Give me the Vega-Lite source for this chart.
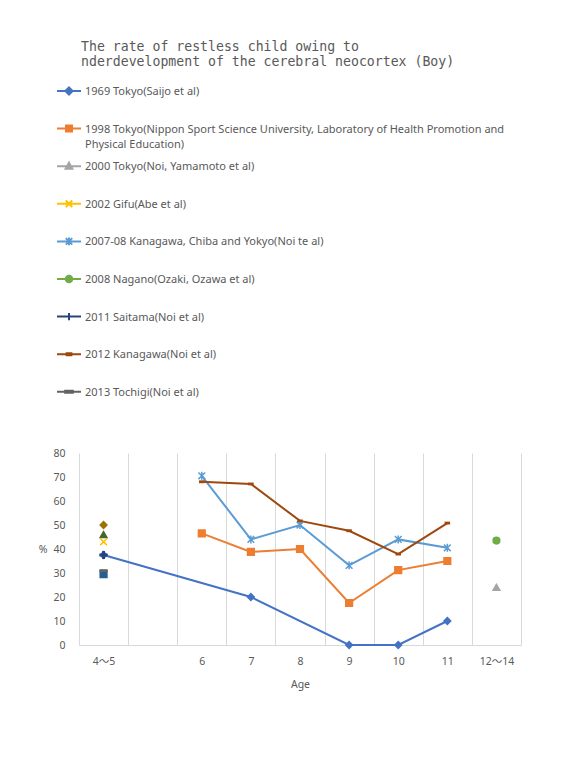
{
  "$schema": "https://vega.github.io/schema/vega-lite/v6.json",
  "width": 442,
  "height": 192,
  "autosize": {"type": "none"},
  "padding": {"left": 79, "top": 453, "right": 47, "bottom": 131},
  "background": "white",
  "title": {
    "text": ["The rate of restless child owing to", "nderdevelopment of the cerebral neocortex (Boy)"],
    "anchor": "start",
    "frame": "group",
    "font": "DejaVu Sans Mono",
    "fontSize": 13.2,
    "fontWeight": "normal",
    "color": "#595959",
    "baseline": "top",
    "lineHeight": 15,
    "offset": 8.5,
    "dx": 2
  },
  "data": {
    "values": [
      {"series": "1969 Tokyo(Saijo et al)", "age": "4～5", "value": 37.5},
      {"series": "1969 Tokyo(Saijo et al)", "age": "7", "value": 20},
      {"series": "1969 Tokyo(Saijo et al)", "age": "9", "value": 0},
      {"series": "1969 Tokyo(Saijo et al)", "age": "10", "value": 0},
      {"series": "1969 Tokyo(Saijo et al)", "age": "11", "value": 10},
      {"series": "1998 Tokyo(Nippon Sport Science University, Laboratory of Health Promotion and Physical Education)", "age": "6", "value": 46.5},
      {"series": "1998 Tokyo(Nippon Sport Science University, Laboratory of Health Promotion and Physical Education)", "age": "7", "value": 38.8},
      {"series": "1998 Tokyo(Nippon Sport Science University, Laboratory of Health Promotion and Physical Education)", "age": "8", "value": 40},
      {"series": "1998 Tokyo(Nippon Sport Science University, Laboratory of Health Promotion and Physical Education)", "age": "9", "value": 17.5},
      {"series": "1998 Tokyo(Nippon Sport Science University, Laboratory of Health Promotion and Physical Education)", "age": "10", "value": 31.2},
      {"series": "1998 Tokyo(Nippon Sport Science University, Laboratory of Health Promotion and Physical Education)", "age": "11", "value": 35},
      {"series": "2000 Tokyo(Noi, Yamamoto et al)", "age": "12～14", "value": 24},
      {"series": "2002 Gifu(Abe et al)", "age": "4～5", "value": 43},
      {"series": "2007-08 Kanagawa, Chiba and Yokyo(Noi te al)", "age": "6", "value": 70.5},
      {"series": "2007-08 Kanagawa, Chiba and Yokyo(Noi te al)", "age": "7", "value": 44},
      {"series": "2007-08 Kanagawa, Chiba and Yokyo(Noi te al)", "age": "8", "value": 50},
      {"series": "2007-08 Kanagawa, Chiba and Yokyo(Noi te al)", "age": "9", "value": 33.2},
      {"series": "2007-08 Kanagawa, Chiba and Yokyo(Noi te al)", "age": "10", "value": 44},
      {"series": "2007-08 Kanagawa, Chiba and Yokyo(Noi te al)", "age": "11", "value": 40.5},
      {"series": "2008 Nagano(Ozaki, Ozawa et al)", "age": "12～14", "value": 43.5},
      {"series": "2011 Saitama(Noi et al)", "age": "4～5", "value": 37.5},
      {"series": "2012 Kanagawa(Noi et al)", "age": "6", "value": 68},
      {"series": "2012 Kanagawa(Noi et al)", "age": "7", "value": 67.1},
      {"series": "2012 Kanagawa(Noi et al)", "age": "8", "value": 51.7},
      {"series": "2012 Kanagawa(Noi et al)", "age": "9", "value": 47.6},
      {"series": "2012 Kanagawa(Noi et al)", "age": "10", "value": 37.9},
      {"series": "2012 Kanagawa(Noi et al)", "age": "11", "value": 50.8},
      {"series": "2013 Tochigi(Noi et al)", "age": "4～5", "value": 31},
      {"series": "Series 10", "age": "4～5", "value": 50},
      {"series": "Series 11", "age": "4～5", "value": 29.5},
      {"series": "Series 12", "age": "4～5", "value": 46}
    ]
  },
  "encoding": {
    "x": {
      "field": "age",
      "type": "ordinal",
      "sort": ["4～5", " ", "6", "7", "8", "9", "10", "11", "12～14"],
      "scale": {"type": "band", "domain": ["4～5", " ", "6", "7", "8", "9", "10", "11", "12～14"], "paddingInner": 0, "paddingOuter": 0},
      "axis": {
        "title": "Age",
        "labelAngle": 0,
        "ticks": false,
        "tickSize": 0,
        "tickBand": "extent",
        "grid": true,
        "gridColor": "#d9d9d9",
        "gridWidth": 1,
        "domain": true,
        "domainColor": "#d9d9d9",
        "domainWidth": 1,
        "labelFont": "Noto Sans, Noto Sans CJK JP",
        "labelFontSize": 10.5,
        "labelColor": "#595959",
        "labelPadding": 11,
        "titleFont": "Noto Sans",
        "titleFontSize": 10.5,
        "titleFontWeight": "normal",
        "titleColor": "#595959",
        "titlePadding": 13
      }
    },
    "y": {
      "field": "value",
      "type": "quantitative",
      "scale": {"domain": [0, 80], "nice": false, "zero": true},
      "axis": {
        "title": "%",
        "values": [0, 10, 20, 30, 40, 50, 60, 70, 80],
        "grid": false,
        "domain": false,
        "ticks": false,
        "tickSize": 0,
        "labelFont": "Noto Sans",
        "labelFontSize": 10.5,
        "labelColor": "#595959",
        "labelPadding": 14,
        "titleAngle": 0,
        "titleAlign": "right",
        "titleBaseline": "middle",
        "titlePadding": 6,
        "titleFont": "Noto Sans",
        "titleFontSize": 10.5,
        "titleFontWeight": "normal",
        "titleColor": "#595959"
      }
    }
  },
  "layer": [
    {
      "transform": [{"filter": {"field": "series", "oneOf": ["1969 Tokyo(Saijo et al)", "1998 Tokyo(Nippon Sport Science University, Laboratory of Health Promotion and Physical Education)", "2007-08 Kanagawa, Chiba and Yokyo(Noi te al)", "2012 Kanagawa(Noi et al)"]}}],
      "mark": {"type": "line", "strokeWidth": 2},
      "encoding": {
        "color": {
          "field": "series",
          "type": "nominal",
          "scale": {
            "domain": ["1969 Tokyo(Saijo et al)", "1998 Tokyo(Nippon Sport Science University, Laboratory of Health Promotion and Physical Education)", "2000 Tokyo(Noi, Yamamoto et al)", "2002 Gifu(Abe et al)", "2007-08 Kanagawa, Chiba and Yokyo(Noi te al)", "2008 Nagano(Ozaki, Ozawa et al)", "2011 Saitama(Noi et al)", "2012 Kanagawa(Noi et al)", "2013 Tochigi(Noi et al)"],
            "range": ["#4472c4", "#ed7d31", "#a5a5a5", "#ffc000", "#5b9bd5", "#70ad47", "#264478", "#9e480e", "#636363"]
          },
          "legend": null
        }
      }
    },
    {
      "transform": [{"filter": "datum.series === 'Series 10'"}],
      "mark": {"type": "point", "shape": "diamond", "filled": true, "color": "#997300", "stroke": "#997300", "strokeWidth": 1.5, "size": 45, "opacity": 1}
    },
    {
      "transform": [{"filter": "datum.series === 'Series 11'"}],
      "mark": {"type": "point", "shape": "square", "filled": true, "color": "#255e91", "stroke": "#255e91", "strokeWidth": 1.5, "size": 45, "opacity": 1}
    },
    {
      "transform": [{"filter": "datum.series === 'Series 12'"}],
      "mark": {"type": "point", "shape": "triangle-up", "filled": true, "color": "#43682b", "stroke": "#43682b", "strokeWidth": 1.5, "size": 45, "opacity": 1}
    },
    {
      "transform": [{"filter": {"field": "series", "oneOf": ["1969 Tokyo(Saijo et al)", "1998 Tokyo(Nippon Sport Science University, Laboratory of Health Promotion and Physical Education)", "2000 Tokyo(Noi, Yamamoto et al)", "2002 Gifu(Abe et al)", "2007-08 Kanagawa, Chiba and Yokyo(Noi te al)", "2008 Nagano(Ozaki, Ozawa et al)", "2011 Saitama(Noi et al)", "2012 Kanagawa(Noi et al)", "2013 Tochigi(Noi et al)"]}}],
      "mark": {"type": "point", "filled": true, "strokeWidth": 1.5, "size": 45, "opacity": 1},
      "encoding": {
        "color": {"field": "series", "type": "nominal", "legend": null},
        "shape": {
          "field": "series",
          "type": "nominal",
          "scale": {
            "domain": ["1969 Tokyo(Saijo et al)", "1998 Tokyo(Nippon Sport Science University, Laboratory of Health Promotion and Physical Education)", "2000 Tokyo(Noi, Yamamoto et al)", "2002 Gifu(Abe et al)", "2007-08 Kanagawa, Chiba and Yokyo(Noi te al)", "2008 Nagano(Ozaki, Ozawa et al)", "2011 Saitama(Noi et al)", "2012 Kanagawa(Noi et al)", "2013 Tochigi(Noi et al)"],
            "range": ["diamond", "square", "triangle-up", "M-1,-1L1,1M-1,1L1,-1", "M-1,-1L1,1M-1,1L1,-1M0,-1.2L0,1.2", "circle", "M-1,-0.2H-0.2V-1H0.2V-0.2H1V0.2H0.2V1H-0.2V0.2H-1Z", "M-0.6,-0.2H0.6V0.2H-0.6Z", "M-1,-0.2H1V0.2H-1Z"]
          },
          "legend": null
        },
        "stroke": {
          "field": "series",
          "type": "nominal",
          "scale": {
            "domain": ["1969 Tokyo(Saijo et al)", "1998 Tokyo(Nippon Sport Science University, Laboratory of Health Promotion and Physical Education)", "2000 Tokyo(Noi, Yamamoto et al)", "2002 Gifu(Abe et al)", "2007-08 Kanagawa, Chiba and Yokyo(Noi te al)", "2008 Nagano(Ozaki, Ozawa et al)", "2011 Saitama(Noi et al)", "2012 Kanagawa(Noi et al)", "2013 Tochigi(Noi et al)"],
            "range": ["#4472c4", "#ed7d31", "#a5a5a5", "#ffc000", "#5b9bd5", "#70ad47", "#264478", "#9e480e", "#636363"]
          },
          "legend": null
        }
      }
    },
    {
      "transform": [{"filter": {"field": "series", "oneOf": ["1969 Tokyo(Saijo et al)", "1998 Tokyo(Nippon Sport Science University, Laboratory of Health Promotion and Physical Education)", "2000 Tokyo(Noi, Yamamoto et al)", "2002 Gifu(Abe et al)", "2007-08 Kanagawa, Chiba and Yokyo(Noi te al)", "2008 Nagano(Ozaki, Ozawa et al)", "2011 Saitama(Noi et al)", "2012 Kanagawa(Noi et al)", "2013 Tochigi(Noi et al)"]}}],
      "mark": {"type": "point", "filled": true, "size": 576, "opacity": 0},
      "encoding": {
        "color": {
          "field": "series",
          "type": "nominal",
          "legend": {
            "orient": "none",
            "legendX": -23,
            "legendY": -375,
            "title": null,
            "direction": "vertical",
            "padding": 0,
            "symbolSize": 576,
            "symbolStrokeWidth": 2,
            "symbolOpacity": 1,
            "labelFont": "Noto Sans",
            "labelFontSize": 11,
            "labelColor": "#595959",
            "labelLimit": 600,
            "labelOffset": 3,
            "labelBaseline": "top",
            "rowPadding": 3.6,
            "labelExpr": "datum.label == '1998 Tokyo(Nippon Sport Science University, Laboratory of Health Promotion and Physical Education)' ? ['1998 Tokyo(Nippon Sport Science University, Laboratory of Health Promotion and', 'Physical Education)'] : [datum.label, '']",
            "encode": {
              "labels": {"update": {"dy": {"value": -5}, "lineHeight": {"value": 15}}},
              "symbols": {"update": {"stroke": {"scale": "color", "field": "value"}, "strokeWidth": {"value": 2}, "opacity": {"value": 1}}}
            }
          }
        },
        "shape": {
          "field": "series",
          "type": "nominal",
          "scale": {
            "domain": ["1969 Tokyo(Saijo et al)", "1998 Tokyo(Nippon Sport Science University, Laboratory of Health Promotion and Physical Education)", "2000 Tokyo(Noi, Yamamoto et al)", "2002 Gifu(Abe et al)", "2007-08 Kanagawa, Chiba and Yokyo(Noi te al)", "2008 Nagano(Ozaki, Ozawa et al)", "2011 Saitama(Noi et al)", "2012 Kanagawa(Noi et al)", "2013 Tochigi(Noi et al)"],
            "range": [
              "M-1,0H1M0,-0.3L0.3,0L0,0.3L-0.3,0Z",
              "M-1,0H1M-0.25,-0.25H0.25V0.25H-0.25Z",
              "M-1,0H1M0,-0.3L0.28,0.22H-0.28Z",
              "M-1,0H1M-0.27,-0.27L0.27,0.27M-0.27,0.27L0.27,-0.27",
              "M-1,0H1M-0.27,-0.27L0.27,0.27M-0.27,0.27L0.27,-0.27M0,-0.33V0.33",
              "M-1,0H1M-0.27,0A0.27,0.27 0 1 0 0.27,0A0.27,0.27 0 1 0 -0.27,0Z",
              "M-1,0H1M0,-0.3V0.3",
              "M-1,0H1M-0.2,-0.08H0.2V0.08H-0.2Z",
              "M-1,0H1M-0.32,-0.08H0.32V0.08H-0.32Z"
            ]
          },
          "legend": {
            "orient": "none",
            "legendX": -23,
            "legendY": -375,
            "title": null,
            "direction": "vertical",
            "padding": 0,
            "symbolSize": 576,
            "symbolStrokeWidth": 2,
            "symbolOpacity": 1,
            "labelFont": "Noto Sans",
            "labelFontSize": 11,
            "labelColor": "#595959",
            "labelLimit": 600,
            "labelOffset": 3,
            "labelBaseline": "top",
            "rowPadding": 3.6,
            "labelExpr": "datum.label == '1998 Tokyo(Nippon Sport Science University, Laboratory of Health Promotion and Physical Education)' ? ['1998 Tokyo(Nippon Sport Science University, Laboratory of Health Promotion and', 'Physical Education)'] : [datum.label, '']",
            "encode": {
              "labels": {"update": {"dy": {"value": -5}, "lineHeight": {"value": 15}}},
              "symbols": {"update": {"stroke": {"scale": "color", "field": "value"}, "strokeWidth": {"value": 2}, "opacity": {"value": 1}}}
            }
          }
        }
      }
    }
  ],
  "resolve": {
    "scale": {"shape": "independent"},
    "legend": {"color": "independent", "shape": "independent"}
  },
  "config": {"view": {"stroke": null}}
}
